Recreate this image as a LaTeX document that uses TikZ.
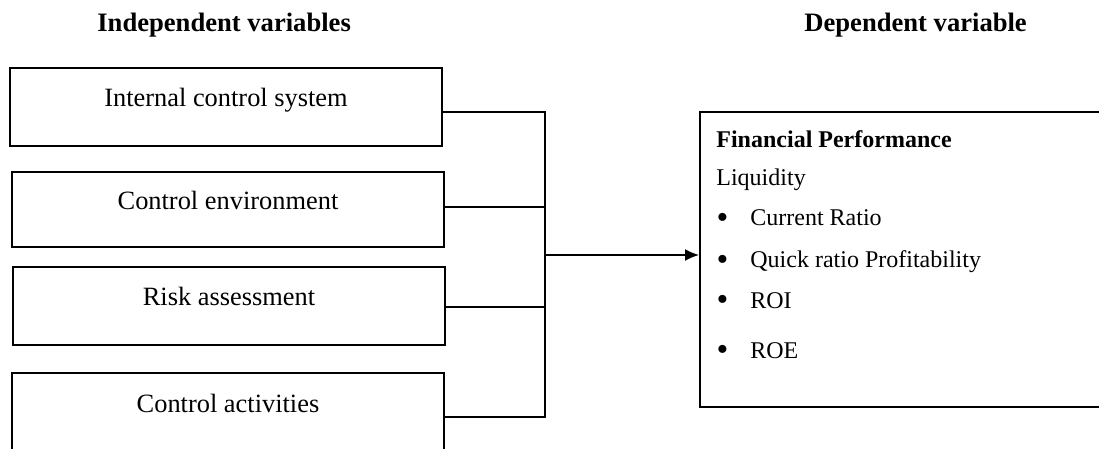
\documentclass[tikz,border=0pt]{standalone}
\usepackage{fontspec}
\setmainfont{Liberation Serif}
\usetikzlibrary{arrows.meta}

\newcommand{\fpbullet}{\llap{\raisebox{-1.5pt}{\scalebox{1.4}{\textbullet}}\hspace{11pt}}}

\tikzset{
  varbox/.style={draw,line width=0.8pt,minimum width=216pt,inner xsep=0pt,inner ysep=0pt,
    text height=19.5pt,text depth=19.5pt,font=\fontsize{13.2}{15}\selectfont},
  itemtext/.style={anchor=base west,inner sep=0pt,font=\fontsize{12}{14}\selectfont},
  heading/.style={anchor=base west,inner sep=0pt,font=\fontsize{13.3}{15}\selectfont\bfseries},
  link/.style={line width=0.8pt}
}

\begin{document}
\begin{tikzpicture}[x=0.5pt,y=-0.5pt]
\clip (0,0) rectangle (1099,449);

\node[heading] (indep) at (97,32) {Independent variables};
\node[heading] (dep) at (804,32) {Dependent variable};

% independent variables
\node[varbox] (ics) at (226,107) {Internal control system};
\node[varbox,text height=18.75pt,text depth=18.75pt] (cenv) at (228,209.5) {Control environment};
\node[varbox] (risk) at (229,306) {Risk assessment};
\node[varbox] (cact) at (228,412) {Control activities};

% dependent variable
\node[draw,line width=0.8pt,minimum width=220pt,minimum height=147.5pt,
  anchor=north west,inner sep=0pt] (fp) at (699,111) {};
\node[itemtext,font=\fontsize{12}{14}\selectfont\bfseries] (fptitle) at (716,148) {Financial Performance};
\node[itemtext] (liq) at (716,186) {Liquidity};
\node[itemtext] (cr) at (750,226) {\fpbullet Current Ratio};
\node[itemtext] (qr) at (750,268) {\fpbullet Quick ratio Profitability};
\node[itemtext] (roi) at (750,308) {\fpbullet ROI};
\node[itemtext] (roe) at (750,358) {\fpbullet ROE};

% bus
\coordinate (b1) at (545,112);
\coordinate (b2) at (545,207);
\coordinate (b3) at (545,307);
\coordinate (b4) at (545,417);
\coordinate (bm) at (545,255);

\draw[link] (ics.east |- b1) -- (b1) -- (b4) -- (cact.east |- b4);
\draw[link] (cenv.east |- b2) -- (b2);
\draw[link] (risk.east |- b3) -- (b3);
\draw[link,-{Latex[length=7pt,width=6pt]}] (bm) -- (fp.west |- bm);
\end{tikzpicture}
\end{document}
